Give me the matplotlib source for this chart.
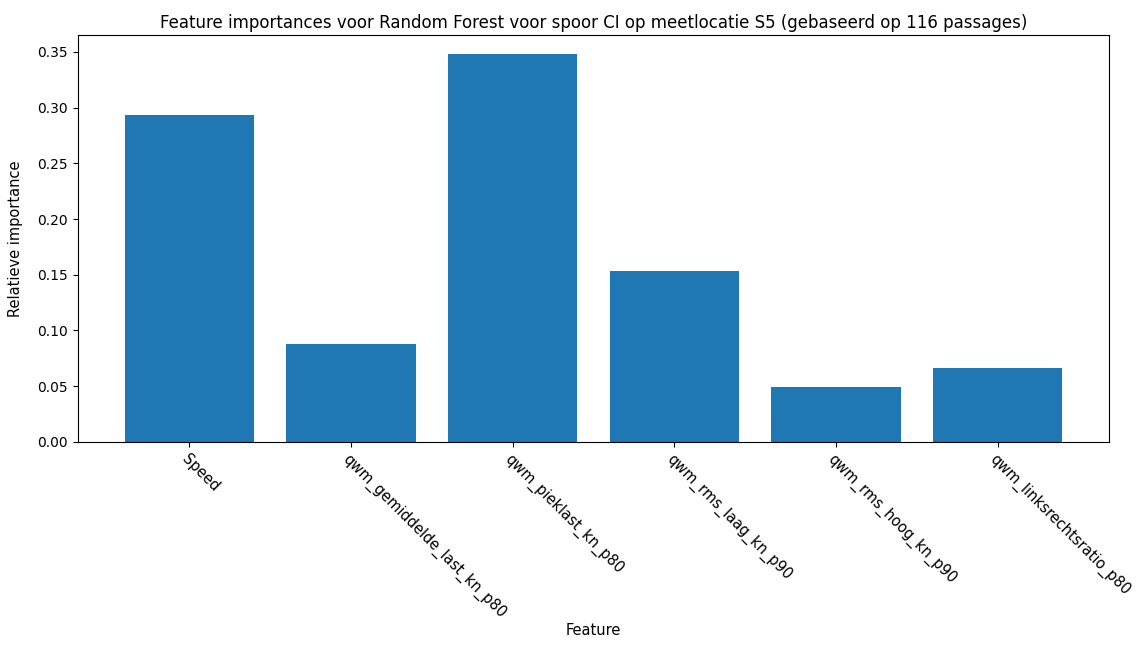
import numpy as np
import matplotlib.pyplot as plt

features = ["Speed", "qwm_gemiddelde_last_kn_p80", "qwm_pieklast_kn_p80",
            "qwm_rms_laag_kn_p90", "qwm_rms_hoog_kn_p90", "qwm_linksrechtsratio_p80"]
importances = [0.293, 0.088, 0.348, 0.153, 0.0495, 0.0666]

fig = plt.figure(figsize=(11.46, 6.45), dpi=100)
ax = fig.add_axes([0.068, 0.315, 0.9, 0.631])

x = np.arange(len(features))
ax.bar(x, importances, width=0.8, color="#1f77b4")
ax.set_xticks(x)
ax.set_xticklabels(features, rotation=-45, ha="left", rotation_mode="anchor", fontsize=10.5)
ax.tick_params(axis="y", labelsize=10)
ax.set_xlabel("Feature", fontsize=10.5)
ax.set_ylabel("Relatieve importance", fontsize=10.5)
ax.yaxis.set_label_coords(-0.053, 0.5)
ax.xaxis.set_label_coords(0.5, -0.445)
ax.set_title("Feature importances voor Random Forest voor spoor CI op meetlocatie S5 (gebaseerd op 116 passages)",
             fontsize=12, pad=5)

fig.savefig("out.png", dpi=100)
